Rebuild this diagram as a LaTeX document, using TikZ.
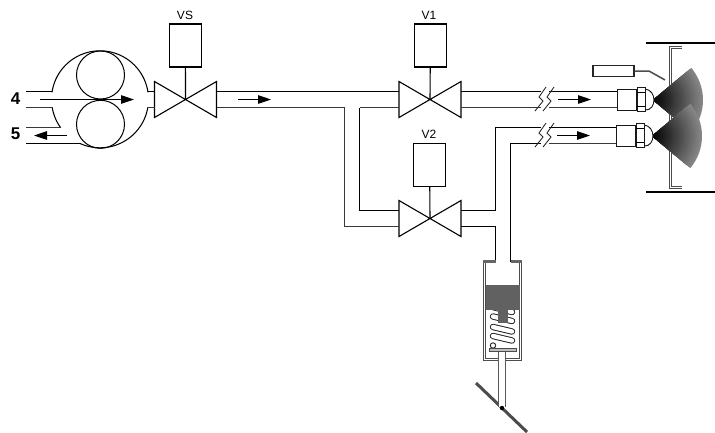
\documentclass[tikz,border=0pt]{standalone}
\usepackage{fontspec}
\setmainfont{Liberation Sans}
\usetikzlibrary{arrows.meta}
\definecolor{lgray}{gray}{0.22}
\tikzset{
  pipe/.style={draw=black,line width=1.05pt},
  pipeg/.style={draw=lgray,line width=1.2pt},
  flow/.style={line width=1.05pt,-{Triangle[length=13pt,width=8.5pt]}},
  actbox/.style={draw,line width=1.1pt,fill=white,minimum width=32pt,minimum height=43pt,inner sep=0pt},
  vlabel/.style={font=\fontsize{12}{12}\selectfont,inner sep=0pt},
  numlabel/.style={font=\fontsize{17}{17}\selectfont\bfseries,inner sep=0pt},
  sensorbox/.style={draw=black!85,line width=1.1pt,fill=white,minimum width=41pt,minimum height=11pt,inner sep=0pt},
  wallout/.style={draw=black!70,line width=3pt,line join=miter},
  wallin/.style={draw=white,line width=0.9pt,line join=miter},
  heavy/.style={line width=1.8pt},
  brk/.style={line width=0.85pt,draw=black!85},
  fit1/.style={draw=black!90,line width=0.95pt,fill=white},
  coil/.style={line width=6.4pt,line cap=round,draw=black!85},
  coilin/.style={line width=4.4pt,line cap=round,draw=white}
}
\newcommand\valvesym[3]{%
  \coordinate (#1) at (#2,#3);
  \coordinate (#1-lt) at (#2-31,#3-8);
  \coordinate (#1-lb) at (#2-31,#3+8);
  \coordinate (#1-rt) at (#2+31,#3-8);
  \coordinate (#1-rb) at (#2+31,#3+8);
  \draw[line width=1.1pt,line join=miter,fill=white] (#2-31,#3-18) -- (#2+31,#3+18) -- (#2+31,#3-18) -- (#2-31,#3+18) -- cycle;
}
% spray fan: nested sectors from the rim (grey) to the apex (black)
\newcommand\spraysector[2]{%
  \foreach \rr in {50,48,...,2}{
    \pgfmathsetmacro{\shadeval}{int(100-52*(\rr/50)^1.1)}
    \fill[black!\shadeval!white] (#1,#2) -- plot[domain=-40:40,samples=17] ({#1+\rr*cos(\x)},{#2+\rr*sin(\x)}) -- cycle;
  }
}
\begin{document}
\begin{tikzpicture}[x=1pt,y=-1pt]
\useasboundingbox (0,0) rectangle (715,432);
\fill[white] (0,0) rectangle (715,432);

% pump
\coordinate (pc) at (100,99.3);
\draw[line width=1.05pt] plot[domain=-8.3:-171.7,samples=60] ({100+48.5*cos(\x)},{99.3+48.5*sin(\x)});
\draw[line width=1.05pt] plot[domain=170.5:144,samples=15] ({100+48.5*cos(\x)},{99.3+48.5*sin(\x)});
\draw[line width=1.05pt] plot[domain=114.9:9.5,samples=50] ({100+48.5*cos(\x)},{99.3+48.5*sin(\x)});
\node[circle,draw,line width=1pt,minimum size=48pt,inner sep=0pt] (r1) at (100.5,75) {};
\node[circle,draw,line width=1pt,minimum size=48pt,inner sep=0pt] (r2) at (100.5,124.3) {};
\coordinate (in1) at (26,91.5);
\coordinate (in2) at (26,107.5);
\coordinate (in3) at (26,127.5);
\coordinate (in4) at (26,143.5);
\draw[pipe] (in1) -- (52,91.5);
\draw[pipeg] (in2) -- (52.2,107.5);
\draw[pipeg] (in3) -- (61,127.5);
\draw[pipe] (in4) -- (80,143.5);
\coordinate (a4s) at (40,99.5);
\coordinate (a4e) at (134,99.5);
\coordinate (a5s) at (67,135.5);
\coordinate (a5e) at (34,135.5);
\draw[flow] (a4s) -- (a4e);
\draw[flow] (a5s) -- (a5e);
\node[numlabel] (n4) at (15.5,98.5) {4};
\node[numlabel] (n5) at (15.5,134) {5};

% valves
\valvesym{vs}{185.5}{99.5}
\valvesym{v1}{430}{99.5}
\valvesym{v2}{430}{218.5}
\node[actbox] (vsb) at (185.4,45.5) {};
\node[actbox] (v1b) at (430.4,45.5) {};
\node[actbox] (v2b) at (429.6,165) {};
\draw[line width=1.1pt] (vsb) -- (vs);
\draw[line width=1.1pt] (v1b) -- (v1);
\draw[line width=1.1pt] (v2b) -- (v2);
\node[vlabel] (lvs) at (185,15.5) {VS};
\node[vlabel] (lv1) at (429,15.5) {V1};
\node[vlabel] (lv2) at (429,134.5) {V2};

% pump stubs
\draw[pipe] (148,91.5) -- (vs-lt);
\draw[pipeg] (147.8,107.5) -- (vs-lb);

% pipes
\coordinate (j1) at (344.5,107.5);
\coordinate (j2) at (359.5,107.5);
\coordinate (j3) at (495.5,210.5);
\coordinate (j4) at (495.5,127.5);
\coordinate (j5) at (495.5,226.5);
\coordinate (j6) at (495.5,262);
\coordinate (j7) at (510.5,143.5);
\coordinate (j8) at (510.5,262);
\draw[pipe] (vs-rt) -- (v1-lt);
\draw[pipeg] (vs-rb) -- (j1);
\draw[pipeg] (j1) |- (v2-lb);
\draw[pipeg] (v1-lb) -- (j2);
\draw[pipe] (j2) |- (v2-lt);
\draw[pipe] (v2-rt) -- (j3) -- (j4) -- (541,127.5);
\draw[pipe] (v2-rb) -- (j5) -- (j6);
\draw[pipe] (j8) -- (j7) -- (541,143.5);
\draw[pipe] (v1-rt) -- (541,91.5);
\draw[pipeg] (v1-rb) -- (541,107.5);
\draw[pipe] (549,91.5) -- (617,91.5);
\draw[pipeg] (549,107.5) -- (617,107.5);
\draw[pipe] (549,127.5) -- (616,127.5);
\draw[pipeg] (549,143.5) -- (616,143.5);

% pipe breaks
\foreach \yy in {0,36}{
  \draw[brk] (546,87+\yy) -- (539,97+\yy) -- (543,101+\yy) -- (535,111+\yy);
  \draw[brk] (554,87+\yy) -- (547,97+\yy) -- (551,101+\yy) -- (543,111+\yy);
}

% pipe arrows
\coordinate (a1s) at (238,99.5);
\coordinate (a1e) at (271,99.5);
\coordinate (a2s) at (558,99.5);
\coordinate (a2e) at (591,99.5);
\coordinate (a3s) at (557,135.5);
\coordinate (a3e) at (590,135.5);
\draw[flow] (a1s) -- (a1e);
\draw[flow] (a2s) -- (a2e);
\draw[flow] (a3s) -- (a3e);

% wall
\draw[heavy] (646,43) -- (715,43);
\draw[heavy] (646,192) -- (715,192);
\draw[wallout] (682,47.5) -- (670.5,47.5) -- (670.5,187.5) -- (682,187.5);
\draw[wallin] (681.5,47.5) -- (670.5,47.5) -- (670.5,187.5) -- (681.5,187.5);

% sensor
\node[sensorbox] (sens) at (613.5,71) {};
\coordinate (sw1) at (649,71);
\coordinate (sw2) at (665,80);
\draw[draw=black!70,line width=1.5pt] (sens) -- (sw1) -- (sw2);

% sprays
\spraysector{653}{100}
\spraysector{652}{136}

% nozzles
\draw[fit1] (645,89) .. controls (651,89.5) and (654,95) .. (654,100) .. controls (654,105) and (651,110.5) .. (645,110) -- cycle;
\draw[fit1] (617,89) rectangle (636.5,110);
\draw[fit1] (637,87.5) rectangle (645,111.5);
\draw[line width=0.8pt] (637,92.5) -- (645,92.5) (637,106.5) -- (645,106.5);
\draw[fit1] (644,125) .. controls (650,125.5) and (653,131) .. (653,136) .. controls (653,141) and (650,146.5) .. (644,146) -- cycle;
\draw[fit1] (616,125) rectangle (635.5,146);
\draw[fit1] (636,123.5) rectangle (644,147.5);
\draw[line width=0.8pt] (636,128.5) -- (644,128.5) (636,142.5) -- (644,142.5);

% cylinder
\draw[wallout] (484.5,261) -- (484.5,359.5) -- (520.5,359.5) -- (520.5,261);
\draw[wallin] (484.5,261) -- (484.5,359.5) -- (520.5,359.5) -- (520.5,261);
\fill[black!60] (483,259.5) rectangle (495.5,262.5);
\fill[black!60] (511,259.5) rectangle (522,262.5);
\draw[coil] (493,307) -- (512,312);
\draw[coilin] (493,307) -- (512,312);
\draw[coil] (493,316.5) -- (512,321);
\draw[coilin] (493,316.5) -- (512,321);
\draw[coil] (493,327) -- (512,331.5);
\draw[coilin] (493,327) -- (512,331.5);
\draw[coil] (493,336) -- (512,340.5);
\draw[coilin] (493,336) -- (512,340.5);
\draw[line width=0.95pt,draw=black!85] (493,345.5) circle (2.7pt);
\fill[black!62] (486,285) rectangle (519.5,309.5);
\fill[black!62] (497.5,309) rectangle (508,323);
\draw[draw=black!70,fill=black!25,line width=0.7pt] (489,348.5) rectangle (516,351);

% lever and rod
\coordinate (lv1) at (476,383);
\coordinate (lv2) at (527,432);
\coordinate (pin) at (502,408);
\draw[draw=black!70,line width=3pt] (lv1) -- (lv2);
\fill[white] (498.5,351.5) rectangle (505.5,407);
\draw[draw=black!65,line width=1.2pt] (498.5,351.5) -- (498.5,407) (505.5,351.5) -- (505.5,407);
\fill[black] (pin) circle (2.2pt);
\end{tikzpicture}
\end{document}
